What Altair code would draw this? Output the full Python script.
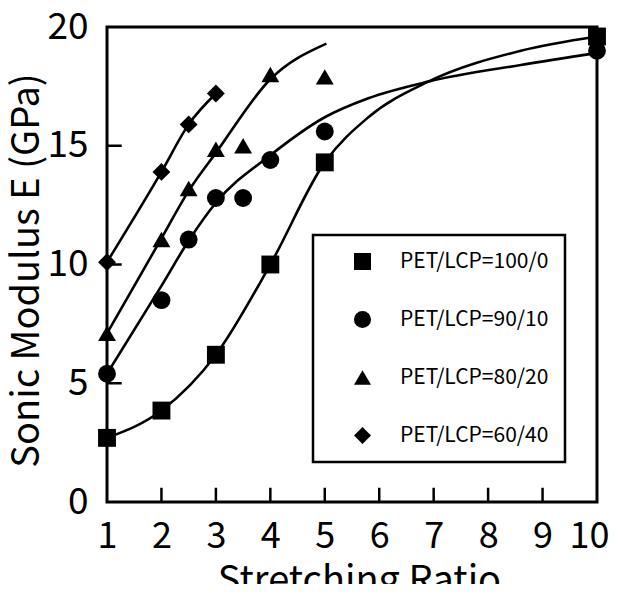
import altair as alt
import pandas as pd

FONT = "Noto Sans CJK JP, Liberation Sans, sans-serif"

series = ["PET/LCP=100/0", "PET/LCP=90/10", "PET/LCP=80/20", "PET/LCP=60/40"]
shapes = ["square", "circle", "triangle-up", "diamond"]

# measured points
x_100 = [1, 2, 3, 4, 5, 10]
y_100 = [2.7, 3.85, 6.2, 10.0, 14.3, 19.6]
x_90 = [1, 2, 2.5, 3, 3.5, 4, 5, 10]
y_90 = [5.4, 8.5, 11.05, 12.8, 12.8, 14.4, 15.6, 19.0]
x_80 = [1, 2, 2.5, 3, 3.5, 4, 5]
y_80 = [7.1, 11.05, 13.2, 14.85, 15.0, 18.0, 17.9]
x_60 = [1, 2, 2.5, 3]
y_60 = [10.1, 13.9, 15.9, 17.2]

# fitted curves
cx_100 = [1, 2, 3, 4, 5, 5.8, 6.9, 8.6, 10]
cy_100 = [2.7, 3.85, 6.2, 10.0, 14.3, 16.2, 17.7, 19.0, 19.6]
cx_90 = [1, 2, 2.5, 3, 4, 5, 5.8, 6.9, 8.6, 10]
cy_90 = [5.4, 9.1, 11.0, 12.6, 14.6, 16.2, 17.0, 17.7, 18.4, 18.9]
cx_80 = [1, 2, 2.5, 3, 4, 5.03]
cy_80 = [7.1, 11.1, 13.1, 14.7, 17.8, 19.3]
cx_60 = [1, 2, 2.5, 3]
cy_60 = [10.1, 13.9, 15.9, 17.2]

x_ticks = [2, 3, 4, 5, 6, 7, 8, 9]
y_ticks = [5, 10, 15]
x_labels = [1, 2, 3, 4, 5, 6, 7, 8, 9, 10]
y_labels = [0, 5, 10, 15, 20]

pts = pd.concat([
    pd.DataFrame({"x": xs, "y": ys, "series": s})
    for xs, ys, s in [(x_100, y_100, series[0]), (x_90, y_90, series[1]),
                      (x_80, y_80, series[2]), (x_60, y_60, series[3])]
])
curves = pd.concat([
    pd.DataFrame({"x": xs, "y": ys, "series": s})
    for xs, ys, s in [(cx_100, cy_100, series[0]), (cx_90, cy_90, series[1]),
                      (cx_80, cy_80, series[2]), (cx_60, cy_60, series[3])]
])

xs = alt.Scale(domain=[1, 10], nice=False, zero=False)
ys = alt.Scale(domain=[0, 20], nice=False)

X = alt.X("x:Q", scale=xs, axis=alt.Axis(
    values=x_labels, format="d", labelOverlap=False, title="Stretching Ratio",
    ticks=False, domain=False, grid=False,
    labelFont=FONT, labelFontSize=36, labelColor="black", labelPadding=17,
    labelOffset=alt.condition("datum.value == 10", alt.value(-8), alt.value(0)),
    titleFont=FONT, titleFontSize=38, titleFontWeight="normal", titleColor="black",
    titleX=252, titleY=60, titleBaseline="top", labelFlush=False))
Y = alt.Y("y:Q", scale=ys, axis=alt.Axis(
    values=y_labels, format="d", labelOverlap=False, title="Sonic Modulus E (GPa)",
    ticks=False, domain=False, grid=False,
    labelFont=FONT, labelFontSize=37, labelColor="black", labelPadding=19,
    titleFont=FONT, titleFontSize=38, titleFontWeight="normal", titleColor="black",
    titleX=-80, titleY=243, titleBaseline="middle", titleAngle=270, labelFlush=False))

lines = alt.Chart(curves).mark_line(color="black", strokeWidth=2.6, interpolate="monotone").encode(
    x=X, y=Y, detail="series:N")

points = alt.Chart(pts).mark_point(filled=True, color="black", opacity=1, size=320).encode(
    x="x:Q", y="y:Q",
    shape=alt.Shape("series:N", scale=alt.Scale(domain=series, range=shapes),
                    legend=alt.Legend(
                        title=None, orient="none", legendX=206, legendY=208,
                        strokeColor="black", padding=16, symbolSize=290,
                        symbolFillColor="black", symbolStrokeWidth=0,
                        symbolOffset=23, labelOffset=27, rowPadding=36,
                        labelFont=FONT, labelFontSize=21, labelColor="black",
                        labelExpr="datum.label + '\u00a0\u00a0\u00a0\u00a0\u00a0\u00a0\u00a0\u00a0'",
                        labelLimit=400)),
)

xtick = alt.Chart(pd.DataFrame({"t": x_ticks})).mark_rule(color="black", strokeWidth=2.5).encode(
    x="t:Q", y=alt.datum(0), y2=alt.datum(0.6))
ytick = alt.Chart(pd.DataFrame({"t": y_ticks})).mark_rule(color="black", strokeWidth=2.5).encode(
    y="t:Q", x=alt.datum(1), x2=alt.datum(1.27))

chart = alt.layer(lines, xtick, ytick, points).properties(
    width=490, height=475,
    autosize=alt.AutoSizeParams(type="none"),
    padding={"left": 99, "top": 19, "right": 12, "bottom": 82},
).configure_view(stroke="black", strokeWidth=3).configure_legend(strokeWidth=2.5)

chart.save("out.html", embed_options={"renderer": "svg", "actions": False})
